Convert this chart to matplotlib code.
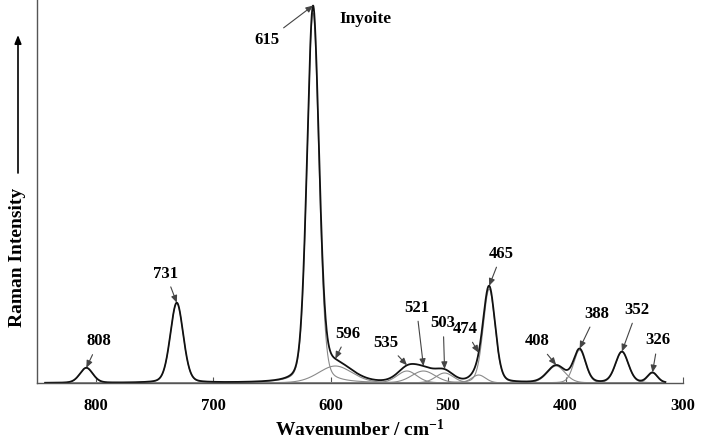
import numpy as np
import matplotlib
matplotlib.use("Agg")
import matplotlib.pyplot as plt

plt.rcParams['font.family'] = ['Liberation Serif', 'DejaVu Serif']
plt.rcParams['font.weight'] = 'bold'
plt.rcParams['mathtext.fontset'] = 'custom'
plt.rcParams['mathtext.rm'] = 'Liberation Serif:bold'
plt.rcParams['mathtext.it'] = 'Liberation Serif:bold'
plt.rcParams['mathtext.bf'] = 'Liberation Serif:bold'

# Band components (centre cm-1, height arb., FWHM cm-1)
centers = [808, 731, 615, 596, 535, 521, 503, 474, 465, 408, 388, 352, 326]
heights = [15, 80, 370, 17, 12, 12, 10, 8, 94, 17, 33, 31, 10]
fwhm = [13, 13, 12, 34, 20, 24, 18, 14, 12, 18, 12, 13, 10]
labels = ['808', '731', '615', '596', '535', '521', '503', '474', '465',
          '408', '388', '352', '326']
# label offsets (points) from each peak marker
offsets = [(9, 19), (-8, 21), (-33, -25), (9, 18), (-15, 16), (-5, 42),
           (-1, 33), (-10, 17), (9, 23), (-14, 17), (12, 25), (11, 30), (4, 23)]
xticks = [800, 700, 600, 500, 400, 300]
eta = 0.2

x = np.linspace(843, 315, 3000)

def band(xx, c, h, w):
    g = np.exp(-4 * np.log(2) * ((xx - c) / w) ** 2)
    l = 1.0 / (1.0 + (2 * (xx - c) / w) ** 2)
    return h * (eta * l + (1 - eta) * g)

fig = plt.figure(figsize=(7.01, 4.42), dpi=100)
ax = fig.add_axes([37 / 701, 1 - 383 / 442, (683 - 37) / 701, 383 / 442])

total = np.zeros_like(x)
for c, h, w in zip(centers, heights, fwhm):
    comp = band(x, c, h, w)
    total += comp
    ax.plot(x, comp, color='#8a8a8a', lw=0.8)
ax.plot(x, total, color='#111111', lw=1.3)

for c, lab, off in zip(centers, labels, offsets):
    yv = sum(band(np.array([c]), cc, hh, ww)[0] for cc, hh, ww in zip(centers, heights, fwhm))
    ax.annotate(lab, xy=(c, yv), xytext=off, textcoords='offset points',
                ha='center', va='center', fontsize=12, fontweight='bold',
                arrowprops=dict(arrowstyle='-|>,head_length=0.35,head_width=0.15',
                                color='#444444', lw=0.8, shrinkA=2, shrinkB=0))

ax.text(366 / 701, 1 - 19 / 442, 'Inyoite', transform=fig.transFigure,
        ha='center', va='center', fontsize=12.5, fontweight='bold')

ax.set_xlim(850, 300)
ax.set_ylim(0, 383)
ax.set_xticks(xticks)
ax.set_xticklabels([str(t) for t in xticks])
ax.set_yticks([])
ax.tick_params(axis='x', direction='in', length=4, width=0.8, labelsize=12, pad=11, color='#555555')
for s in ['top', 'right']:
    ax.spines[s].set_visible(False)
for s in ['left', 'bottom']:
    ax.spines[s].set_color('#555555')
    ax.spines[s].set_linewidth(1.0)

ax.set_xlabel('Wavenumber / cm$^{-1}$', fontsize=14, fontweight='bold', labelpad=3)
fig.text(18 / 701, 1 - 257 / 442, 'Raman Intensity', rotation=90,
         ha='center', va='center', fontsize=14, fontweight='bold')
ax.annotate('', xy=(18, 442 - 35), xytext=(18, 442 - 173), xycoords='figure pixels',
            textcoords='figure pixels',
            arrowprops=dict(arrowstyle='-|>,head_length=0.5,head_width=0.2', color='black', lw=1.2,
                            shrinkA=0, shrinkB=0))

fig.savefig('out.png', dpi=100)
